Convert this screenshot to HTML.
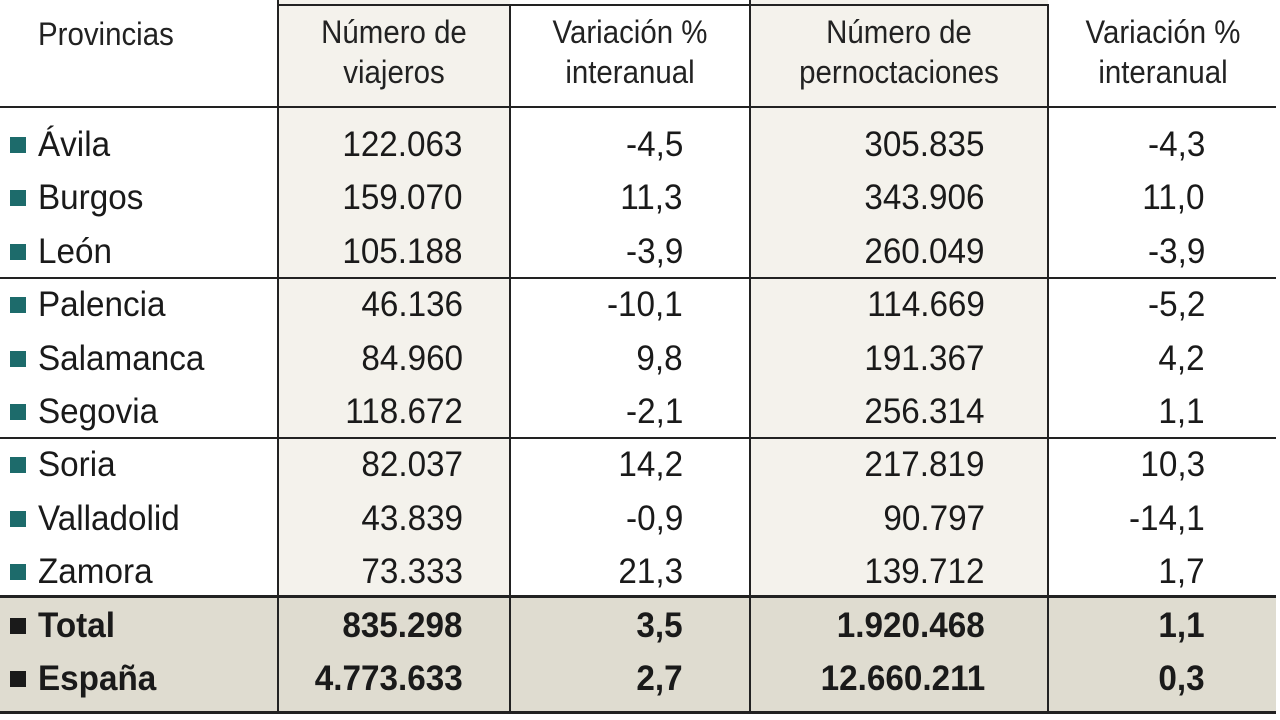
<!DOCTYPE html>
<html><head><meta charset="utf-8"><style>
body{margin:0;width:1280px;height:720px;background:#fff;position:relative;overflow:hidden;font-family:"Liberation Sans",Arial,sans-serif;color:#1a1a1a}
.bg{position:absolute}
.l{position:absolute;background:#222}
.t{position:absolute;white-space:nowrap;font-size:35px;line-height:40px;transform:scaleX(0.95)}
.h{position:absolute;font-size:32px;line-height:40px;text-align:center;color:#222;transform:scaleX(0.92)}
.sq{position:absolute;width:16px;height:16px;background:#1d6b6b}
.b{font-weight:bold}
</style></head><body>
<div class="bg" style="left:278px;top:0;width:232px;height:596px;background:#f4f2ec"></div>
<div class="bg" style="left:750px;top:0;width:298px;height:596px;background:#f4f2ec"></div>
<div class="bg" style="left:0;top:596px;width:1276px;height:117px;background:#dfdcd0"></div>
<div class="l" style="left:278px;top:4px;width:770px;height:2px"></div>
<div class="l" style="left:0;top:106px;width:1276px;height:2px"></div>
<div class="l" style="left:0;top:277px;width:1276px;height:2px"></div>
<div class="l" style="left:0;top:437px;width:1276px;height:2px"></div>
<div class="l" style="left:0;top:595px;width:1276px;height:3px"></div>
<div class="l" style="left:0;top:711px;width:1276px;height:3px"></div>
<div class="l" style="left:277px;top:0;width:2px;height:714px"></div>
<div class="l" style="left:509px;top:4px;width:2px;height:710px"></div>
<div class="l" style="left:749px;top:0;width:2px;height:714px"></div>
<div class="l" style="left:1047px;top:4px;width:2px;height:710px"></div>
<div class="h" style="left:38px;top:14px;text-align:left;transform-origin:left center">Provincias</div>
<div class="h" style="left:278px;top:12px;width:232px">Número de<br>viajeros</div>
<div class="h" style="top:12px;width:260px;left:500px">Variación %<br>interanual</div>
<div class="h" style="left:750px;top:12px;width:298px">Número de<br>pernoctaciones</div>
<div class="h" style="left:1048px;top:12px;width:230px">Variación %<br>interanual</div>
<div id="rows"></div>
<script>
const provinces=["Ávila","Burgos","León","Palencia","Salamanca","Segovia","Soria","Valladolid","Zamora","Total","España"];
const viajeros=["122.063","159.070","105.188","46.136","84.960","118.672","82.037","43.839","73.333","835.298","4.773.633"];
const varViajeros=["-4,5","11,3","-3,9","-10,1","9,8","-2,1","14,2","-0,9","21,3","3,5","2,7"];
const pernoct=["305.835","343.906","260.049","114.669","191.367","256.314","217.819","90.797","139.712","1.920.468","12.660.211"];
const varPernoct=["-4,3","11,0","-3,9","-5,2","4,2","1,1","10,3","-14,1","1,7","1,1","0,3"];
const root=document.getElementById('rows');
const rights=[463,683,985,1205];
provinces.forEach((p,i)=>{
  const cy=145+i*53.4;
  const bold=i>=9;
  const sq=document.createElement('div');
  sq.className='sq';
  
  
  sq.style.left='10px';sq.style.top=(cy-8)+'px';
  if(bold)sq.style.background='#1a1a1a';
  root.appendChild(sq);
  const n=document.createElement('div');
  n.className='t'+(bold?' b':'');
  
  
  n.style.left='38px';n.style.top=(cy-20)+'px';n.style.transformOrigin='left center';
  n.textContent=p;root.appendChild(n);
  [viajeros[i],varViajeros[i],pernoct[i],varPernoct[i]].forEach((v,j)=>{
    const c=document.createElement('div');
    c.className='t'+(bold?' b':'');
    
    
    c.style.right=(1280-rights[j])+'px';c.style.top=(cy-20)+'px';c.style.transformOrigin='right center';
    c.textContent=v;root.appendChild(c);
  });
});
</script>
</body></html>
